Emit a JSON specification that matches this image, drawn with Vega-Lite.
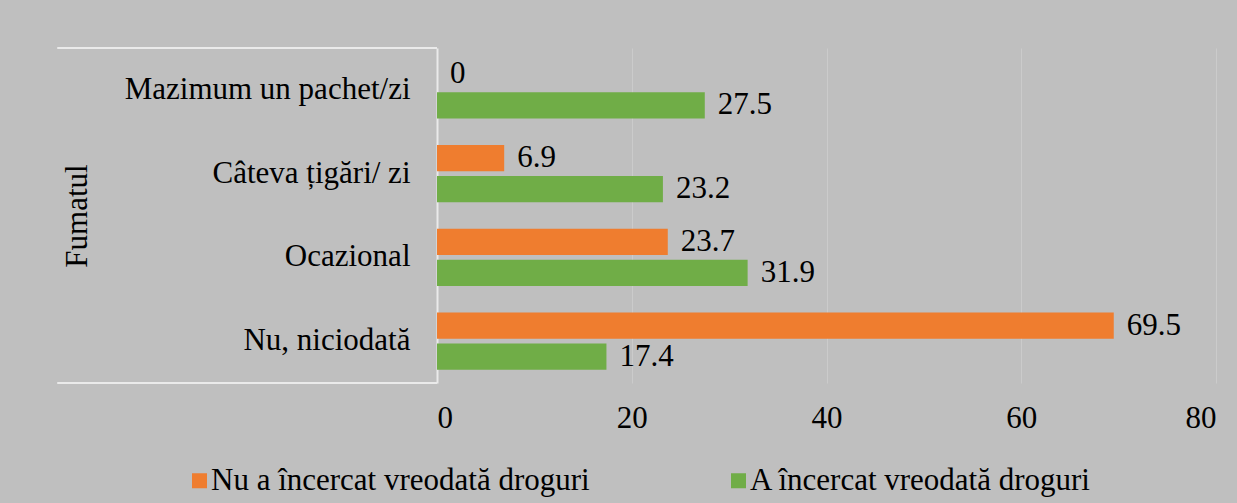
{
  "$schema": "https://vega.github.io/schema/vega-lite/v6.json",
  "width": 779,
  "height": 335,
  "autosize": {"type": "none"},
  "padding": {"left": 437, "top": 48, "right": 21, "bottom": 120},
  "background": "#BFBFBF",
  "config": {
    "view": {"stroke": null},
    "font": "Liberation Serif",
    "text": {"font": "Liberation Serif"}
  },
  "datasets": {
    "bars": [
      {"cat": "Mazimum un pachet/zi", "series": "Nu a încercat vreodată droguri", "value": 0},
      {"cat": "Mazimum un pachet/zi", "series": "A încercat vreodată droguri", "value": 27.5},
      {"cat": "Câteva țigări/ zi", "series": "Nu a încercat vreodată droguri", "value": 6.9},
      {"cat": "Câteva țigări/ zi", "series": "A încercat vreodată droguri", "value": 23.2},
      {"cat": "Ocazional", "series": "Nu a încercat vreodată droguri", "value": 23.7},
      {"cat": "Ocazional", "series": "A încercat vreodată droguri", "value": 31.9},
      {"cat": "Nu, niciodată", "series": "Nu a încercat vreodată droguri", "value": 69.5},
      {"cat": "Nu, niciodată", "series": "A încercat vreodată droguri", "value": 17.4}
    ],
    "topline": [{"cat": "Mazimum un pachet/zi", "from": -39, "to": 0}],
    "bottomline": [{"cat": "Nu, niciodată", "from": -39, "to": 0}]
  },
  "layer": [
    {
      "data": {"name": "bars"},
      "mark": {"type": "bar"},
      "encoding": {
        "y": {
          "field": "cat", "type": "nominal",
          "sort": ["Mazimum un pachet/zi", "Câteva țigări/ zi", "Ocazional", "Nu, niciodată"],
          "scale": {"paddingInner": 0, "paddingOuter": 0},
          "axis": {
            "title": "Fumatul",
            "titleFont": "Liberation Serif", "labelFont": "Liberation Serif",
            "titleFontSize": 31, "titleFontWeight": "normal", "titleColor": "#000000",
            "titleX": -360, "titleY": 167.5, "titleAngle": -90,
            "titleAlign": "center", "titleBaseline": "middle",
            "labelFontSize": 31, "labelPadding": 27, "labelLimit": 400, "labelColor": "#000000",
            "ticks": false,
            "domainColor": "#EAEAEA", "domainWidth": 2,
            "grid": false
          }
        },
        "yOffset": {
          "field": "series", "type": "nominal",
          "sort": ["Nu a încercat vreodată droguri", "A încercat vreodată droguri"],
          "scale": {"paddingInner": 0.16, "paddingOuter": 0.43}
        },
        "x": {
          "field": "value", "type": "quantitative",
          "scale": {"domain": [0, 80], "nice": false},
          "axis": {
            "title": null,
            "labelFont": "Liberation Serif",
            "values": [0, 20, 40, 60, 80],
            "labelFontSize": 31, "labelPadding": 20, "labelColor": "#000000",
            "ticks": false, "domain": false,
            "grid": true, "gridColor": "#CBCBCB", "gridWidth": 1
          }
        },
        "color": {
          "field": "series", "type": "nominal",
          "scale": {
            "domain": ["Nu a încercat vreodată droguri", "A încercat vreodată droguri"],
            "range": ["#EF7D2F", "#70AD47"]
          },
          "legend": {
            "title": null,
            "orient": "none",
            "direction": "horizontal",
            "legendX": -253,
            "legendY": 417,
            "symbolType": "square",
            "symbolSize": 225,
            "symbolStrokeWidth": 0,
            "labelFont": "Liberation Serif",
            "labelFontSize": 31, "labelColor": "#000000",
            "labelOffset": -4,
            "columnPadding": 133,
            "labelLimit": 500
          }
        }
      }
    },
    {
      "data": {"name": "bars"},
      "mark": {"type": "text", "align": "left", "baseline": "middle", "dx": 13, "fontSize": 31, "color": "#000000", "font": "Liberation Serif"},
      "encoding": {
        "y": {"field": "cat", "type": "nominal", "sort": ["Mazimum un pachet/zi", "Câteva țigări/ zi", "Ocazional", "Nu, niciodată"]},
        "yOffset": {"field": "series", "type": "nominal", "sort": ["Nu a încercat vreodată droguri", "A încercat vreodată droguri"]},
        "x": {"field": "value", "type": "quantitative"},
        "text": {"field": "value", "type": "quantitative", "format": ".1~f"}
      }
    },
    {
      "data": {"name": "topline"},
      "mark": {"type": "rule", "color": "#EAEAEA", "strokeWidth": 2},
      "encoding": {
        "y": {"field": "cat", "type": "nominal", "bandPosition": 0, "sort": ["Mazimum un pachet/zi", "Câteva țigări/ zi", "Ocazional", "Nu, niciodată"]},
        "x": {"field": "from", "type": "quantitative"},
        "x2": {"field": "to"}
      }
    },
    {
      "data": {"name": "bottomline"},
      "mark": {"type": "rule", "color": "#EAEAEA", "strokeWidth": 2},
      "encoding": {
        "y": {"field": "cat", "type": "nominal", "bandPosition": 1, "sort": ["Mazimum un pachet/zi", "Câteva țigări/ zi", "Ocazional", "Nu, niciodată"]},
        "x": {"field": "from", "type": "quantitative"},
        "x2": {"field": "to"}
      }
    }
  ]
}
